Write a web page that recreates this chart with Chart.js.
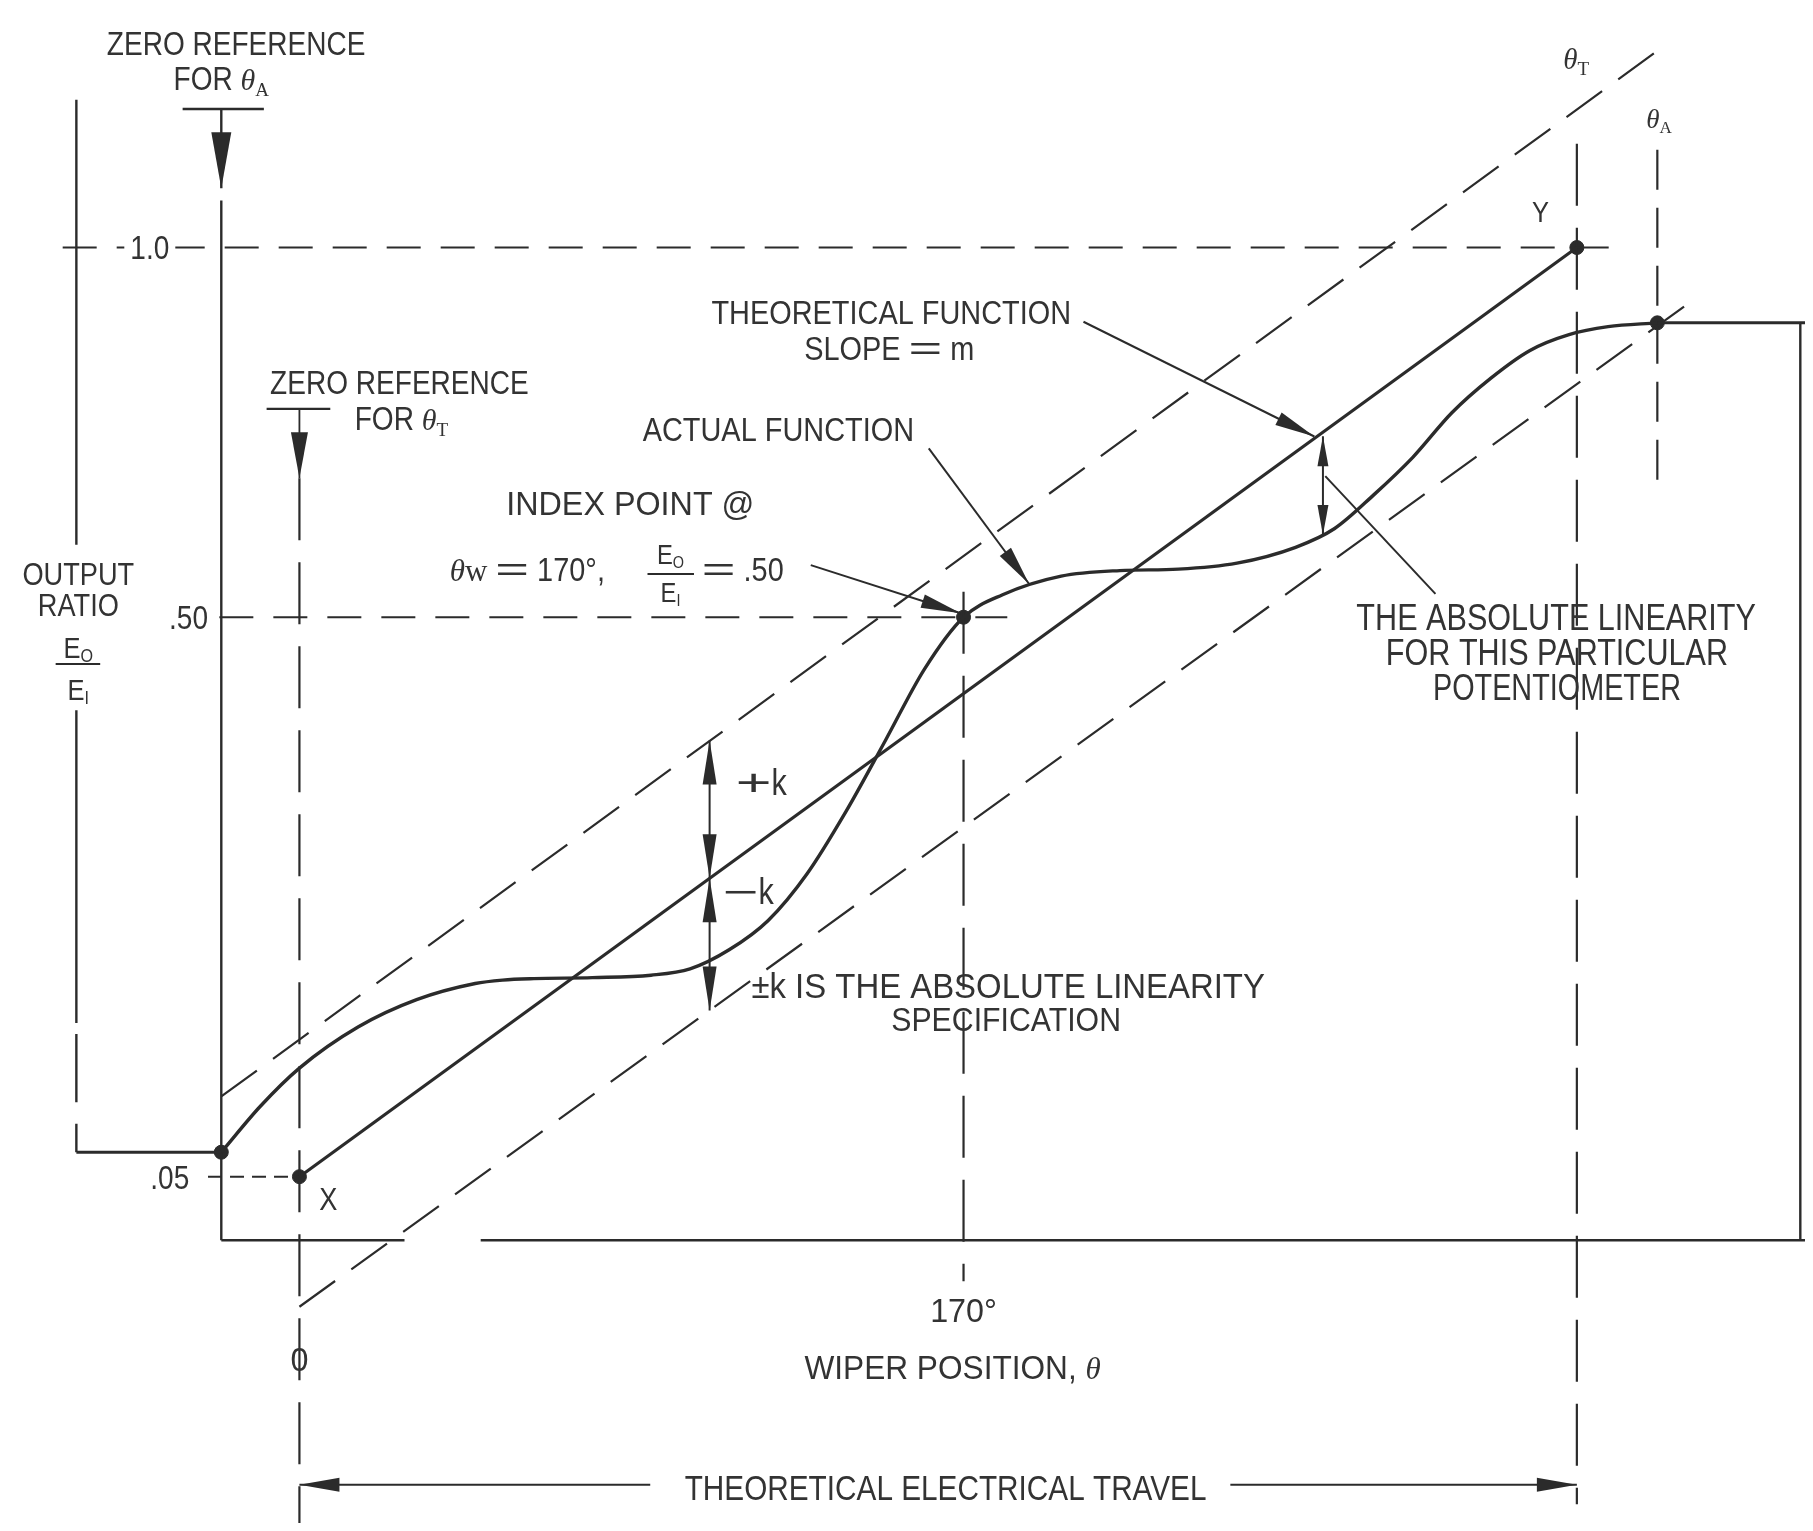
<!DOCTYPE html>
<html>
<head>
<meta charset="utf-8">
<script src="https://cdn.jsdelivr.net/npm/chart.js@4.4.1/dist/chart.umd.min.js"></script>
<style>
html,body{margin:0;padding:0;background:#fff;}
canvas{display:block;}
</style>
</head>
<body>
<canvas id="c" width="1813" height="1531"></canvas>
<script>
// ================= DATA =================
// wiper position in degrees, output ratio in diagram units
const actualTheta = [-20, -10, 0, 15, 30, 45, 52, 60, 75, 90, 100, 110, 120, 130, 140, 150, 160, 170, 180, 195, 210, 225, 240, 255, 265, 275, 285, 295, 305, 315, 325, 335, 347.6];
const actualRatio = [0.075, 0.122, 0.161, 0.203, 0.231, 0.2475, 0.251, 0.2525, 0.2535, 0.256, 0.2625, 0.282, 0.312, 0.360, 0.424, 0.496, 0.569, 0.622, 0.645, 0.664, 0.6697, 0.6712, 0.6773, 0.6935, 0.7127, 0.7471, 0.7855, 0.8311, 0.8665, 0.8948, 0.911, 0.9191, 0.923];

const theoreticalTheta = [0, 327];
const theoreticalRatio = [0.05, 1.0];

const upperLimitTheta = [-20, 350];
const upperLimitRatio = [0.132, 1.208];
const lowerLimitTheta = [0, 356];
const lowerLimitRatio = [-0.083, 0.944];

const inputFlatTheta = [-57.1, -20];
const inputFlatRatio = [0.075, 0.075];
const outputFlatTheta = [347.6, 386];
const outputFlatRatio = [0.923, 0.923];

const markTheta = [-20, 0, 170, 327, 347.6];
const markRatio = [0.075, 0.05, 0.622, 1.0, 0.923];

const kArrowTheta = 105;
const kArrowRatio = [0.496, 0.355, 0.220];   // +k limit, theoretical, -k limit

const absLinTheta = 262;
const absLinRatio = [0.807, 0.706];          // theoretical, actual

const yTickValues = [0.05, 0.622, 1.0];
const yTickLabels = ['.05', '.50', '1.0'];
const xTickValues = [0, 170];
const xTickLabels = ['0', '170\u00B0'];

const thetaT = 327, thetaA = 347.6;
const yAxisTheta = -20, xAxisRatio = -0.015;
const frameLeftTheta = -57.1, frameRightTheta = 384.2;
const travelRatio = -0.265;

// ================= LAYOUT =================
const X_MIN = -74.6, X_MAX = 385.4, Y_MIN = -0.3041, Y_MAX = 1.2449;
const LINE = '#2b2b2b', TEXT = '#333333';
const SANS = '"Liberation Sans", Arimo, Arial, sans-serif';
const SERIF = '"Liberation Serif", "DejaVu Serif", serif';

const pts = (xs, ys) => xs.map((x, i) => ({x: x, y: ys[i]}));
function ds(xs, ys, extra) {
  return Object.assign({
    data: pts(xs, ys), showLine: true, pointRadius: 0, pointHoverRadius: 0,
    borderColor: LINE, backgroundColor: LINE, borderWidth: 2.4, tension: 0, fill: false
  }, extra || {});
}
const DIAG = [44, 20], HOR = [34, 20], VERT = [62, 22];

const datasets = [
  // main curves
  ds(actualTheta, actualRatio, {borderWidth: 3.4, cubicInterpolationMode: 'monotone'}),
  ds(theoreticalTheta, theoreticalRatio, {borderWidth: 3.2}),
  ds(upperLimitTheta, upperLimitRatio, {borderDash: DIAG, borderWidth: 2.2}),
  ds(lowerLimitTheta, lowerLimitRatio, {borderDash: DIAG, borderWidth: 2.2}),
  ds(inputFlatTheta, inputFlatRatio, {borderWidth: 3}),
  ds(outputFlatTheta, outputFlatRatio, {borderWidth: 3}),
  // axes
  ds([yAxisTheta, 26.9], [xAxisRatio, xAxisRatio]),
  ds([46.4, 390], [xAxisRatio, xAxisRatio]),
  ds([yAxisTheta, yAxisTheta], [xAxisRatio, 1.048]),
  // frame lines
  ds([frameLeftTheta, frameLeftTheta], [1.151, 0.696]),
  ds([frameLeftTheta, frameLeftTheta], [0.527, 0.207]),
  ds([frameLeftTheta, frameLeftTheta], [0.196, 0.126]),
  ds([frameLeftTheta, frameLeftTheta], [0.104, 0.075]),
  ds([frameRightTheta, frameRightTheta], [0.923, xAxisRatio]),
  // reference dashed lines
  ds([-60.6, 335.7], [1.0, 1.0], {borderDash: HOR, borderWidth: 2.2}),
  ds([-20.5, 181.2], [0.622, 0.622], {borderDash: HOR, borderWidth: 2.2}),
  ds([-23.4, 0], [0.05, 0.05], {borderDash: [14, 8], borderWidth: 2}),
  ds([0, 0], [0.764, -0.304], {borderDash: VERT, borderWidth: 2.2}),
  ds([170, 170], [0.648, -0.057], {borderDash: VERT, borderWidth: 2.2}),
  ds([thetaT, thetaT], [1.106, -0.285], {borderDash: VERT, borderWidth: 2.2}),
  ds([thetaA, thetaA], [1.100, 0.749], {borderDash: [40, 18], borderWidth: 2.2}),
  // zero references
  ds([-29.9, -9.1], [1.1417, 1.1417], {borderWidth: 2.6}),
  ds([yAxisTheta, yAxisTheta], [1.1417, 1.0607], {arrow: 'end', arrowLen: 56, arrowHW: 10}),
  ds([-8.4, 7.9], [0.835, 0.835], {borderWidth: 2.2}),
  ds([0, 0], [0.835, 0.764], {borderWidth: 1.8, arrow: 'end', arrowLen: 46, arrowHW: 8.5}),
  // theoretical electrical travel
  ds([89.8, 0], [travelRatio, travelRatio], {borderWidth: 2, arrow: 'end', arrowLen: 40, arrowHW: 7}),
  ds([238.3, thetaT], [travelRatio, travelRatio], {borderWidth: 2, arrow: 'end', arrowLen: 40, arrowHW: 7}),
  // leaders
  ds([200.7, 259.8], [0.9241, 0.8068], {borderWidth: 2, arrow: 'end', arrowLen: 40, arrowHW: 7}),
  ds([161.1, 186.8], [0.7946, 0.656], {borderWidth: 2, arrow: 'end', arrowLen: 40, arrowHW: 7}),
  ds([130.9, 169.3], [0.6753, 0.626], {borderWidth: 2, arrow: 'end', arrowLen: 40, arrowHW: 7}),
  ds([absLinTheta, absLinTheta], absLinRatio, {borderWidth: 2, arrow: 'both', arrowLen: 30, arrowHW: 5.5}),
  ds([262.6, 290.8], [0.7663, 0.6459], {borderWidth: 2}),
  // +k / -k
  ds([kArrowTheta, kArrowTheta], [kArrowRatio[1], kArrowRatio[0]], {borderWidth: 2, arrow: 'both', arrowLen: 44, arrowHW: 7}),
  ds([kArrowTheta, kArrowTheta], [kArrowRatio[1], kArrowRatio[2]], {borderWidth: 2, arrow: 'both', arrowLen: 44, arrowHW: 7}),
  // fraction bars
  ds([-62.4, -51.0], [0.5741, 0.5741], {borderWidth: 2}),
  ds([89.1, 101.0], [0.6662, 0.6662], {borderWidth: 2}),
  // marked points
  {data: pts(markTheta, markRatio), showLine: false, pointRadius: 7, pointHoverRadius: 7,
   pointBackgroundColor: LINE, pointBorderColor: LINE, borderColor: LINE, backgroundColor: LINE}
];

// ================= TEXT =================
function segStyle(kind, size, sx) {
  switch (kind) {
    case 'th':   return {font: 'italic ' + Math.round(size * 0.9) + 'px ' + SERIF, sx: 1, dy: 0};
    case 'sub':  return {font: Math.round(size * 0.58) + 'px ' + SERIF, sx: 1, dy: Math.round(size * 0.18)};
    case 'subS': return {font: Math.round(size * 0.62) + 'px ' + SANS, sx: 0.85, dy: Math.round(size * 0.14)};
    case 'serif':return {font: Math.round(size * 0.9) + 'px ' + SERIF, sx: 1, dy: 0};
    case 'eq':   return {font: size + 'px ' + SANS, sx: 1.7, dy: 0};
    default:     return {font: size + 'px ' + SANS, sx: sx || 0.85, dy: 0};
  }
}
const S = t => [[t, 'sans']];
const labels = [
  {x: -16.2, y: 1.2095, size: 33, parts: S('ZERO REFERENCE')},
  {x: -20.0, y: 1.173, size: 33, parts: [['FOR ', 'sans'], ['\u03B8', 'th'], ['A', 'sub']]},
  {x: 25.6, y: 0.8625, size: 33, parts: S('ZERO REFERENCE')},
  {x: 26.1, y: 0.826, size: 33, parts: [['FOR ', 'sans'], ['\u03B8', 'th'], ['T', 'sub']]},
  {x: -56.6, y: 0.667, size: 32, parts: S('OUTPUT')},
  {x: -56.6, y: 0.6348, size: 32, parts: S('RATIO')},
  {x: -56.6, y: 0.5913, size: 30, parts: [['E', 'sans'], ['O', 'subS']]},
  {x: -56.6, y: 0.5488, size: 30, parts: [['E', 'sans'], ['I', 'subS']]},
  {x: 7.4, y: 0.0278, size: 32, parts: S('X')},
  {x: 317.7, y: 1.037, size: 30, parts: S('Y')},
  {x: 326.8, y: 1.194, size: 32, parts: [['\u03B8', 'th'], ['T', 'sub']]},
  {x: 348.0, y: 1.133, size: 30, parts: [['\u03B8', 'th'], ['A', 'sub']]},
  {x: 151.5, y: 0.9343, size: 34, parts: S('THEORETICAL FUNCTION')},
  {x: 151.0, y: 0.8979, size: 34, parts: [['SLOPE ', 'sans'], ['=', 'eq'], [' m', 'sans']]},
  {x: 122.6, y: 0.815, size: 34, parts: S('ACTUAL FUNCTION')},
  {x: 84.7, y: 0.739, size: 34, sx: 0.95, parts: S('INDEX POINT @')},
  {x: 78.2, y: 0.6713, size: 34, align: 'right', parts: [['\u03B8', 'th'], ['w', 'serif'], [' ', 'sans'], ['=', 'eq'], [' 170\u00B0,', 'sans']]},
  {x: 95.0, y: 0.6864, size: 28, parts: [['E', 'sans'], ['O', 'subS']]},
  {x: 95.0, y: 0.648, size: 28, parts: [['E', 'sans'], ['I', 'subS']]},
  {x: 103.0, y: 0.6713, size: 34, align: 'left', parts: [['=', 'eq'], [' .50', 'sans']]},
  {x: 321.7, y: 0.6217, size: 36, parts: S('THE ABSOLUTE LINEARITY')},
  {x: 321.9, y: 0.5863, size: 36, parts: S('FOR THIS PARTICULAR')},
  {x: 321.9, y: 0.5508, size: 36, sx: 0.8, parts: S('POTENTIOMETER')},
  {x: 118.2, y: 0.4537, size: 36, parts: [['+', 'eq'], ['k', 'sans']]},
  {x: 114.9, y: 0.3425, size: 36, parts: [['\u2212', 'eq'], ['k', 'sans']]},
  {x: 115.7, y: 0.2453, size: 35, sx: 0.94, align: 'left', parts: S('\u00B1k IS THE ABSOLUTE LINEARITY')},
  {x: 180.9, y: 0.2119, size: 34, sx: 0.89, parts: S('SPECIFICATION')},
  {x: 167.2, y: -0.1442, size: 34, sx: 0.93, parts: [['WIPER POSITION, ', 'sans'], ['\u03B8', 'th']]},
  {x: 165.4, y: -0.2677, size: 35, parts: S('THEORETICAL ELECTRICAL TRAVEL')}
];
// tick-label placement (layout only)
const yTickLabelTheta = [-33.2, -28.4, -38.3];
const xTickLabelRatio = [-0.136, -0.0856];

function drawRich(ctx, px, py, lab) {
  const size = lab.size || 34;
  const segs = lab.parts.map(p => {
    const st = segStyle(p[1], size, lab.sx);
    ctx.font = st.font;
    return {t: p[0], st: st, w: ctx.measureText(p[0]).width * st.sx};
  });
  const total = segs.reduce((a, s) => a + s.w, 0);
  const align = lab.align || 'center';
  let x = align === 'center' ? px - total / 2 : (align === 'right' ? px - total : px);
  const base = py + size * 0.36;
  if (lab.bg) {
    ctx.fillStyle = '#ffffff';
    ctx.fillRect(x - 6, py - size * 0.45, total + 12, size * 0.9);
  }
  ctx.fillStyle = TEXT;
  segs.forEach(s => {
    ctx.save();
    ctx.font = s.st.font;
    ctx.textAlign = 'left';
    ctx.textBaseline = 'alphabetic';
    ctx.translate(x, base + s.st.dy);
    ctx.scale(s.st.sx, 1);
    ctx.fillText(s.t, 0, 0);
    ctx.restore();
    x += s.w;
  });
}

const textPlugin = {
  id: 'diagramText',
  afterDatasetsDraw(chart) {
    const ctx = chart.ctx, xs = chart.scales.x, ys = chart.scales.y;
    ctx.save();
    yTickValues.forEach((v, i) => {
      drawRich(ctx, xs.getPixelForValue(yTickLabelTheta[i]), ys.getPixelForValue(v),
        {size: 33, parts: S(yTickLabels[i]), bg: yTickLabels[i] === '1.0'});
    });
    xTickValues.forEach((v, i) => {
      drawRich(ctx, xs.getPixelForValue(v), ys.getPixelForValue(xTickLabelRatio[i]),
        {size: 34, sx: 0.95, parts: S(xTickLabels[i])});
    });
    labels.forEach(l => drawRich(ctx, xs.getPixelForValue(l.x), ys.getPixelForValue(l.y), l));
    ctx.restore();
  }
};

function head(ctx, x1, y1, x2, y2, len, hw) {
  const a = Math.atan2(y2 - y1, x2 - x1), c = Math.cos(a), s = Math.sin(a);
  ctx.beginPath();
  ctx.moveTo(x2, y2);
  ctx.lineTo(x2 - len * c + hw * s, y2 - len * s - hw * c);
  ctx.lineTo(x2 - len * c - hw * s, y2 - len * s + hw * c);
  ctx.closePath();
  ctx.fill();
}
const arrowPlugin = {
  id: 'arrowHeads',
  afterDatasetsDraw(chart) {
    const ctx = chart.ctx;
    ctx.save();
    ctx.fillStyle = LINE;
    chart.data.datasets.forEach((d, i) => {
      if (!d.arrow) return;
      const pts = chart.getDatasetMeta(i).data;
      const p0 = pts[0], p1 = pts[pts.length - 1];
      const len = d.arrowLen || 36, hw = d.arrowHW || 7;
      if (d.arrow === 'end' || d.arrow === 'both') head(ctx, p0.x, p0.y, p1.x, p1.y, len, hw);
      if (d.arrow === 'start' || d.arrow === 'both') head(ctx, p1.x, p1.y, p0.x, p0.y, len, hw);
    });
    ctx.restore();
  }
};

new Chart(document.getElementById('c').getContext('2d'), {
  type: 'scatter',
  data: {datasets: datasets},
  options: {
    responsive: false,
    animation: false,
    events: [],
    layout: {padding: 0},
    plugins: {legend: {display: false}, tooltip: {enabled: false}, title: {display: false}},
    scales: {
      x: {type: 'linear', min: X_MIN, max: X_MAX, display: false},
      y: {type: 'linear', min: Y_MIN, max: Y_MAX, display: false}
    }
  },
  plugins: [arrowPlugin, textPlugin]
});
</script>
</body>
</html>
